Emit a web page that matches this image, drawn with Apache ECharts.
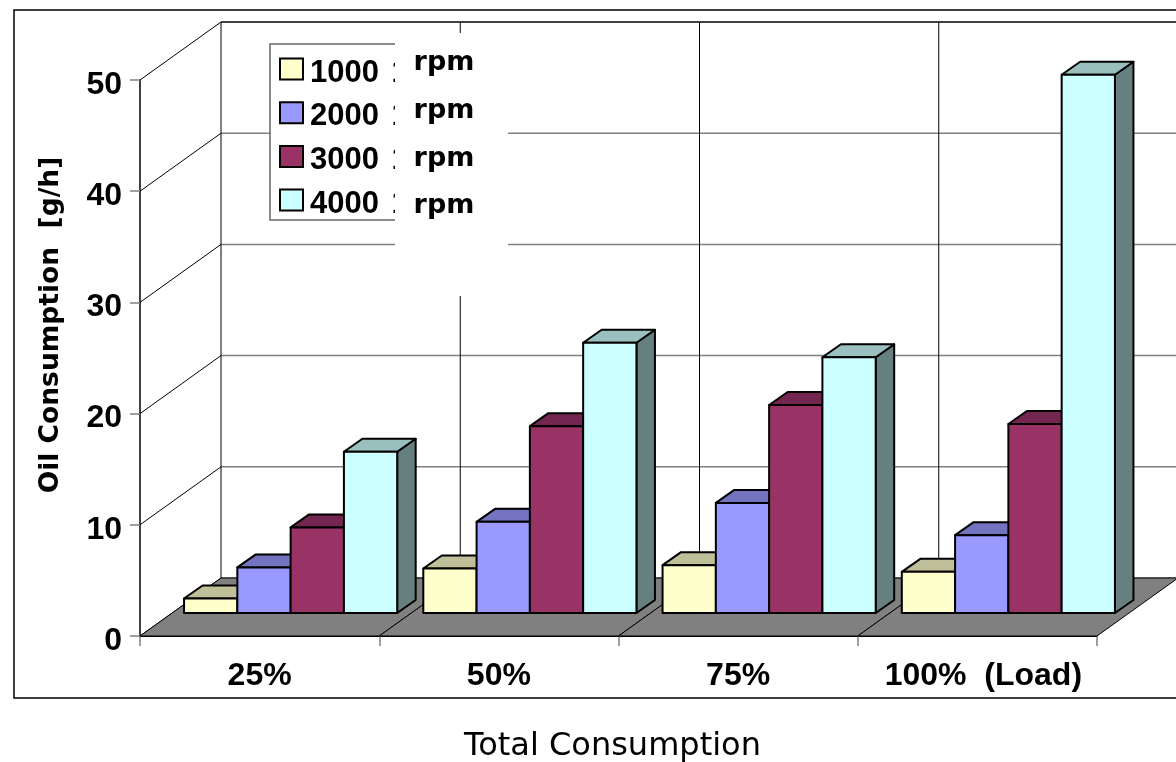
<!DOCTYPE html>
<html>
<head>
<meta charset="utf-8">
<style>html,body{margin:0;padding:0;background:#fff;overflow:hidden}#c{width:1176px;height:762px}</style>
<script src="https://cdn.jsdelivr.net/npm/echarts@6/dist/echarts.min.js"></script>
</head>
<body>
<div id="c"></div>
<script>
const categories = ['25%', '50%', '75%', '100%  (Load)'];
const rpm1000 = [1.3, 4.0, 4.3, 3.7];
const rpm2000 = [4.1, 8.2, 9.9, 7.0];
const rpm3000 = [7.7, 16.8, 18.7, 17.0];
const rpm4000 = [14.5, 24.3, 23.0, 48.4];
const seriesNames = ['1000 1', '2000 1', '3000 1', '4000 1'];
const seriesValues = [rpm1000, rpm2000, rpm3000, rpm4000];
const unitLabel = 'rpm';
const tickValues = [0, 10, 20, 30, 40, 50];

const faceColors = ['#FFFFCC', '#9999FF', '#993366', '#CCFFFF'];
const topColors = ['#BFBF99', '#7373BF', '#732650', '#99BFBF'];
const sideColors = ['#808066', '#4D4D80', '#4D1A33', '#668080'];
const wallDX = 81, wallDY = -58, barDX = 31, barDY = -23, depthDX = 18.5, depthDY = -13, barRatio = 1 / 4.49;

const chart = echarts.init(document.getElementById('c'), null, {renderer: 'canvas'});

function wallItem(params, api) {
  const p = api.coord([0, api.value(1)]);
  const band = api.size([1, 0])[0];
  const x0 = p[0] - band / 2, y0 = p[1];
  const xb = x0 + wallDX, yb = y0 + wallDY;
  const isTop = api.value(1) === tickValues[tickValues.length - 1];
  return {type: 'group', children: [
    {type: 'line', shape: {x1: x0, y1: y0, x2: xb, y2: yb}, style: {stroke: '#000', lineWidth: 1}},
    {type: 'line', shape: {x1: xb, y1: yb, x2: x0 + band * categories.length + wallDX, y2: yb},
     style: {stroke: isTop ? '#404040' : '#808080', lineWidth: isTop ? 2 : 1.5}}
  ]};
}
function floorItem(params, api) {
  const p = api.coord([api.value(0), 0]);
  const top = api.coord([api.value(0), tickValues[tickValues.length - 1]]);
  const band = api.size([1, 0])[0];
  const x0 = p[0] - band / 2, y0 = p[1];
  return {type: 'group', children: [
    {type: 'line', shape: {x1: x0 + wallDX, y1: top[1] + wallDY, x2: x0 + wallDX, y2: y0 + wallDY}, style: {stroke: '#000', lineWidth: 1}},
    {type: 'polygon', shape: {points: [[x0, y0], [x0 + band, y0], [x0 + band + wallDX, y0 + wallDY], [x0 + wallDX, y0 + wallDY]]},
     style: {fill: '#808080', stroke: '#000', lineWidth: 1}}
  ]};
}
function barItem(si) {
  return function (params, api) {
    const c = api.coord([api.value(0), api.value(1)]);
    const b = api.coord([api.value(0), 0]);
    const w = api.size([1, 0])[0] * barRatio;
    const x = c[0] + barDX - 2 * w + si * w, r = x + w;
    const t = c[1] + barDY, g = b[1] + barDY;
    const st = {stroke: '#000', lineWidth: 2, lineJoin: 'round'};
    return {type: 'group', children: [
      {type: 'polygon', shape: {points: [[r, g], [r + depthDX, g + depthDY], [r + depthDX, t + depthDY], [r, t]]}, style: Object.assign({fill: sideColors[si]}, st)},
      {type: 'polygon', shape: {points: [[x, t], [r, t], [r + depthDX, t + depthDY], [x + depthDX, t + depthDY]]}, style: Object.assign({fill: topColors[si]}, st)},
      {type: 'rect', shape: {x: x, y: t, width: w, height: g - t}, style: Object.assign({fill: faceColors[si]}, st)}
    ]};
  };
}

const rpmYs = [63, 111, 159, 206];
const legendFont = {fontFamily: 'Liberation Sans', fontWeight: 'bold', fontSize: 31, color: '#000', lineHeight: 26};
const tickFont = {fontFamily: 'Liberation Sans', fontWeight: 'bold', fontSize: 32, color: '#000'};
const option = {
  animation: false,
  backgroundColor: '#fff',
  grid: {left: 140, right: 79, top: 80, bottom: 126, outerBoundsMode: 'none'},
  xAxis: {
    type: 'category',
    data: categories.map((c, i) => i === categories.length - 1 ? {value: c, textStyle: {padding: [0, 0, 0, 12]}} : c),
    name: 'Total Consumption', nameLocation: 'middle', nameGap: 95,
    nameTextStyle: {fontFamily: 'DejaVu Sans', fontSize: 32, color: '#000', padding: [0, 12, 0, 0]},
    axisLine: {show: true, lineStyle: {color: '#000', width: 2}},
    axisTick: {show: true, length: 10, lineStyle: {color: '#808080', width: 1.5}},
    axisLabel: {fontFamily: 'Liberation Sans', fontWeight: 'bold', fontSize: 32, color: '#000', margin: 24, interval: 0},
    splitLine: {show: false}
  },
  yAxis: {
    type: 'value', min: 0, max: 50, interval: 10,
    name: 'Oil Consumption  [g/h]', nameLocation: 'middle', nameGap: 75, nameRotate: 90,
    nameTextStyle: {fontFamily: 'DejaVu Sans', fontWeight: 'bold', fontSize: 26.5, color: '#000', padding: [0, 0, 0, 66]},
    axisLine: {show: true, lineStyle: {color: '#000', width: 1.5}},
    axisTick: {show: true, length: 10, lineStyle: {color: '#808080', width: 1.5}},
    axisLabel: {
      margin: 18, formatter: '{v|{value}}',
      rich: {v: Object.assign({padding: [10, 0, 0, 0]}, tickFont)}
    },
    splitLine: {show: false}
  },
  legend: {
    left: 270, top: 44, orient: 'vertical', selectedMode: false,
    padding: [5.5, 6, 0.5, 9], itemGap: 4.7, itemWidth: 23, itemHeight: 21,
    backgroundColor: '#fff', borderColor: '#666', borderWidth: 1.5,
    formatter: n => '{a|' + n.slice(0, 5) + '}{b|' + n.slice(5) + '}',
    textStyle: {
      fontFamily: 'Liberation Sans', fontWeight: 'bold', fontSize: 31, color: '#000',
      rich: {
        a: Object.assign({padding: [8, 0, 0, 2]}, legendFont),
        b: Object.assign({padding: [8, 0, 0, 4]}, legendFont)
      }
    },
    data: seriesNames.map((n, i) => ({name: n, icon: 'rect', itemStyle: {color: faceColors[i], borderColor: '#000', borderWidth: 2}}))
  },
  graphic: [
    {type: 'rect', z: 100, silent: true, shape: {x: 14, y: 10, width: 1200, height: 688}, style: {fill: 'none', stroke: '#000', lineWidth: 1.5}},
    {type: 'rect', z: 100, silent: true, shape: {x: 395, y: 33, width: 113, height: 263}, style: {fill: '#fff', stroke: 'none'}}
  ].concat(rpmYs.map(y => ({type: 'text', z: 101, silent: true, x: 444, y: y,
    style: {text: unitLabel, fontFamily: 'DejaVu Sans', fontWeight: 'bold', fontSize: 27, fill: '#000', textAlign: 'center', textVerticalAlign: 'middle'}}))),
  series: [
    {type: 'custom', name: 'wall', coordinateSystem: 'cartesian2d', clip: false, silent: true, z: 1, renderItem: wallItem, encode: {x: 0, y: 1},
     data: tickValues.map(t => [0, t])},
    {type: 'custom', name: 'floor', coordinateSystem: 'cartesian2d', clip: false, silent: true, z: 1, renderItem: floorItem, encode: {x: 0, y: 1},
     data: categories.map((c, i) => [i, 0])}
  ].concat(seriesNames.map((n, si) => ({
    type: 'custom', name: n, coordinateSystem: 'cartesian2d', clip: false, z: 2 + si, renderItem: barItem(si), encode: {x: 0, y: 1},
    itemStyle: {color: faceColors[si]},
    data: seriesValues[si].map((v, i) => [i, v])
  })))
};
chart.setOption(option);
</script>
</body>
</html>
